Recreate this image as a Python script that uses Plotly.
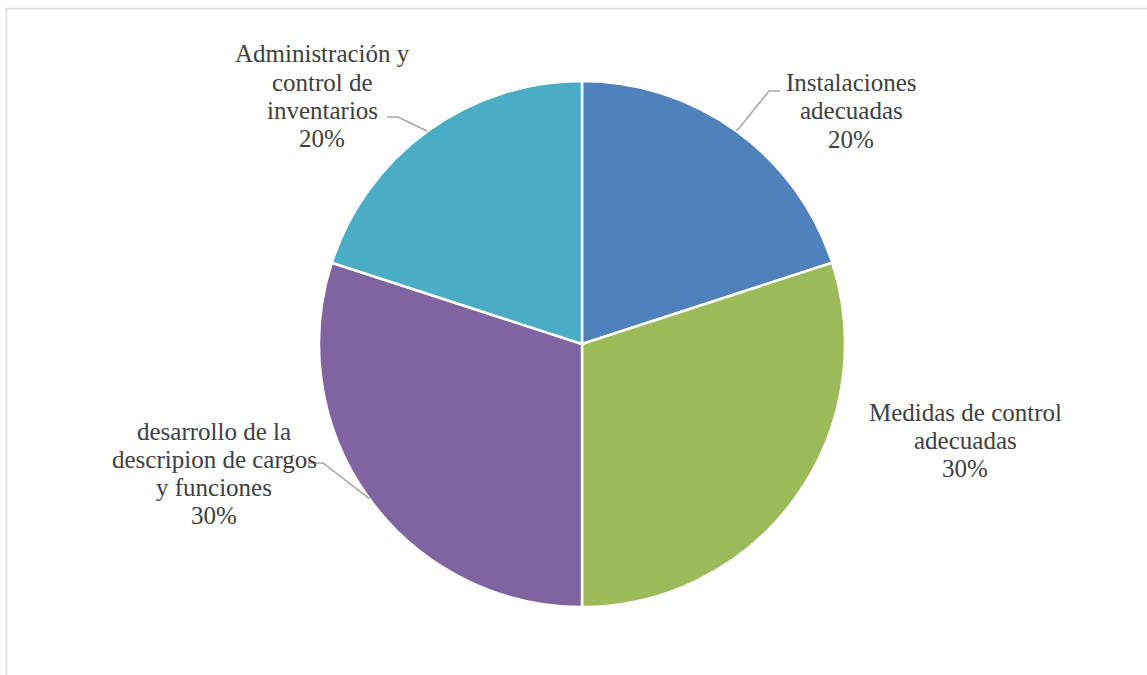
import math
import plotly.graph_objects as go

# Chart data
categories = [
    "Instalaciones adecuadas",
    "Medidas de control adecuadas",
    "desarrollo de la descripion de cargos y funciones",
    "Administración y control de inventarios",
]
values = [20, 30, 30, 20]
slice_colors = ["#4F81BD", "#9BBB59", "#8064A2", "#4BACC6"]

# Wrapped label lines as shown beside each slice (percentage appended below)
label_lines = [
    ["Instalaciones", "adecuadas"],
    ["Medidas de control", "adecuadas"],
    ["desarrollo de la", "descripion de cargos", "y funciones"],
    ["Administración y", "control de", "inventarios"],
]

# ---- layout (pixels) ----
W, H = 1147, 675
CX, CY, R = 582, 344, 263          # pie centre and radius
LINE_H = 28                        # label line spacing
FONT = "Liberation Serif"
TEXT_COLOR = "#404040"
LEADER_COLOR = "#A6A6A6"

# label block centre (x, y of first line) for each slice
label_pos = [(851, 83), (965, 412), (214, 431), (322, 54)]
# leader elbow + end of horizontal stub (None = no leader)
leaders = [
    ((769, 91), (780, 91)),
    None,
    ((323, 463), (308, 463)),
    ((398, 117), (387, 117)),
]


def px(x):
    return x / W


def py(y):
    return 1 - y / H


fig = go.Figure()
fig.add_trace(go.Pie(
    labels=categories,
    values=values,
    sort=False,
    direction="clockwise",
    rotation=0,
    marker=dict(colors=slice_colors, line=dict(color="white", width=2.5)),
    textinfo="none",
    hoverinfo="label+percent",
    showlegend=False,
    domain=dict(x=[px(CX - R), px(CX + R)], y=[py(CY + R), py(CY - R)]),
))

total = sum(values)
annotations = []
shapes = []
cum = 0
for i, v in enumerate(values):
    mid = (cum + v / 2) / total * 2 * math.pi   # clockwise from 12 o'clock
    cum += v
    pct = f"{round(v / total * 100)}%"
    lines = label_lines[i] + [pct]
    lx, ly = label_pos[i]
    for k, t in enumerate(lines):
        annotations.append(dict(
            x=px(lx), y=py(ly + k * LINE_H), xref="paper", yref="paper",
            text=t, showarrow=False, xanchor="center", yanchor="middle",
            font=dict(family=FONT, size=25, color=TEXT_COLOR),
        ))
    if leaders[i] is not None:
        ex = CX + R * math.sin(mid)
        ey = CY - R * math.cos(mid)
        (bx, by), (sx, sy) = leaders[i]
        path = f"M {px(ex)},{py(ey)} L {px(bx)},{py(by)} L {px(sx)},{py(sy)}"
        shapes.append(dict(type="path", path=path, xref="paper", yref="paper",
                           line=dict(color=LEADER_COLOR, width=1.5)))

# chart area frame (top and left edges visible)
shapes.append(dict(type="line", xref="paper", yref="paper",
                   x0=px(6.5), y0=py(8.5), x1=1, y1=py(8.5),
                   line=dict(color="#D9D9D9", width=1.5)))
shapes.append(dict(type="line", xref="paper", yref="paper",
                   x0=px(6.5), y0=py(8.5), x1=px(6.5), y1=0,
                   line=dict(color="#D9D9D9", width=1.5)))

fig.update_layout(
    width=W, height=H, autosize=False,
    margin=dict(l=0, r=0, t=0, b=0),
    paper_bgcolor="white", plot_bgcolor="white",
    annotations=annotations, shapes=shapes,
    showlegend=False,
)

fig.write_html("out.html")
